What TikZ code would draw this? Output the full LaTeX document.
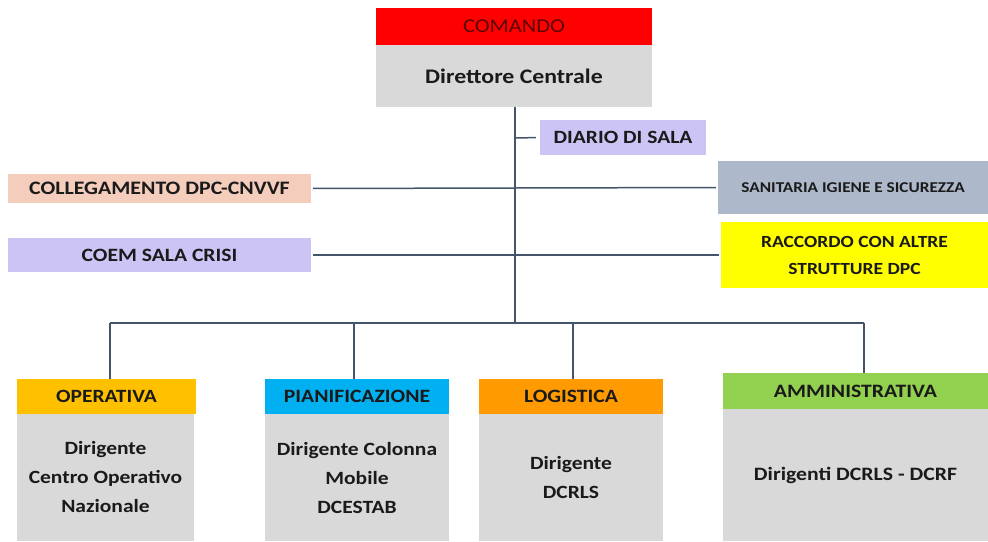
\documentclass[tikz,border=0pt]{standalone}
\usepackage{fontspec}
\setmainfont{Carlito}[FakeStretch=1.15]
\definecolor{cRed}{HTML}{FF0000}
\definecolor{cGray}{HTML}{D9D9D9}
\definecolor{cLav}{HTML}{CCC4F4}
\definecolor{cPeach}{HTML}{F4CDBC}
\definecolor{cSlate}{HTML}{ADB9CA}
\definecolor{cYel}{HTML}{FFFF00}
\definecolor{cGold}{HTML}{FFC000}
\definecolor{cBlue}{HTML}{00B0F0}
\definecolor{cOrange}{HTML}{FF9A00}
\definecolor{cGreen}{HTML}{92D050}
\definecolor{cLine}{HTML}{44546A}
\definecolor{cText}{HTML}{1A1A1A}
\definecolor{cMaroon}{HTML}{5A0505}
\tikzset{
  box/.style={draw=none, inner sep=0pt, align=center, text=cText, font=\bfseries},
  conn/.style={draw=cLine, line width=1.5pt},
}
\begin{document}
\begin{tikzpicture}[x=1pt,y=-1pt]
\useasboundingbox (0,0) rectangle (988,541);
% top
\node[box, fill=cRed, minimum width=276pt, minimum height=37pt, text=cMaroon, font=\fontsize{19.5}{22}\selectfont] (cmd) at (514,26.5) {COMANDO};
\node[box, fill=cGray, minimum width=276pt, minimum height=62pt, font=\fontsize{20.7}{24}\selectfont\bfseries] (dir) at (514,76) {Direttore Centrale};
% side boxes
\node[box, fill=cLav, minimum width=166pt, minimum height=35pt, font=\fontsize{18.7}{22}\selectfont\bfseries] (diario) at (623,137.5) {DIARIO DI SALA};
\node[box, fill=cPeach, minimum width=303pt, minimum height=29pt, font=\fontsize{19}{22}\selectfont\bfseries] (coll) at (159.5,188.5) {COLLEGAMENTO DPC-CNVVF};
\node[box, fill=cSlate, minimum width=270pt, minimum height=53pt, font=\fontsize{15}{18}\selectfont\bfseries] (sanit) at (853,187.5) {SANITARIA IGIENE E SICUREZZA};
\node[box, fill=cLav, minimum width=303pt, minimum height=34pt, font=\fontsize{18.8}{22}\selectfont\bfseries] (coem) at (159.5,255) {COEM SALA CRISI};
\node[box, fill=cYel, minimum width=267pt, minimum height=66pt, font=\fontsize{17}{27}\selectfont\bfseries] (racc) at (854.5,255) {RACCORDO CON ALTRE\\STRUTTURE DPC};
% bottom boxes
\node[box, fill=cGold, minimum width=179pt, minimum height=35pt, font=\fontsize{18.7}{22}\selectfont\bfseries] (oph) at (106.5,396.5) {OPERATIVA};
\node[box, fill=cGray, minimum width=177pt, minimum height=127pt, font=\fontsize{18.7}{29}\selectfont\bfseries] (opb) at (105.5,477.5) {Dirigente\\Centro Operativo\\Nazionale};
\node[box, fill=cBlue, minimum width=184pt, minimum height=35pt, font=\fontsize{18.8}{22}\selectfont\bfseries] (pih) at (357,396.5) {PIANIFICAZIONE};
\node[box, fill=cGray, minimum width=184pt, minimum height=127pt, font=\fontsize{18.7}{29}\selectfont\bfseries] (pib) at (357,477.5) {Dirigente Colonna\\Mobile\\DCESTAB};
\node[box, fill=cOrange, minimum width=184pt, minimum height=35pt, font=\fontsize{18.8}{22}\selectfont\bfseries] (loh) at (571,396.5) {LOGISTICA};
\node[box, fill=cGray, minimum width=184pt, minimum height=127pt, font=\fontsize{18.7}{29}\selectfont\bfseries] (lob) at (571,477.5) {Dirigente\\DCRLS};
\node[box, fill=cGreen, minimum width=265pt, minimum height=36pt, font=\fontsize{18.9}{22}\selectfont\bfseries] (amh) at (855.5,391) {AMMINISTRATIVA};
\node[box, fill=cGray, minimum width=265pt, minimum height=132pt, font=\fontsize{18.9}{29}\selectfont\bfseries] (amb) at (855.5,475) {Dirigenti DCRLS - DCRF};
% connectors
\coordinate (bm) at (515,323);
\coordinate (b1) at (110,323);
\coordinate (b2) at (354,323);
\coordinate (b3) at (573,323);
\coordinate (b4) at (864,323);
\coordinate (dt) at (515,138);
\draw[conn] (dir.south -| bm) -- (bm);
\draw[conn] (b1) -- (b4);
\draw[conn] (b1) -- (b1 |- oph.north);
\draw[conn] (b2) -- (b2 |- pih.north);
\draw[conn] (b3) -- (b3 |- loh.north);
\draw[conn] (b4) -- (b4 |- amh.north);
\draw[conn, shorten >=4pt] (dt) -- (diario.west);
\draw[conn, shorten <=2pt, shorten >=2pt] (coll.east) -- (sanit.west);
\draw[conn, shorten <=2pt, shorten >=2pt] (coem.east) -- (racc.west);
\end{tikzpicture}
\end{document}
